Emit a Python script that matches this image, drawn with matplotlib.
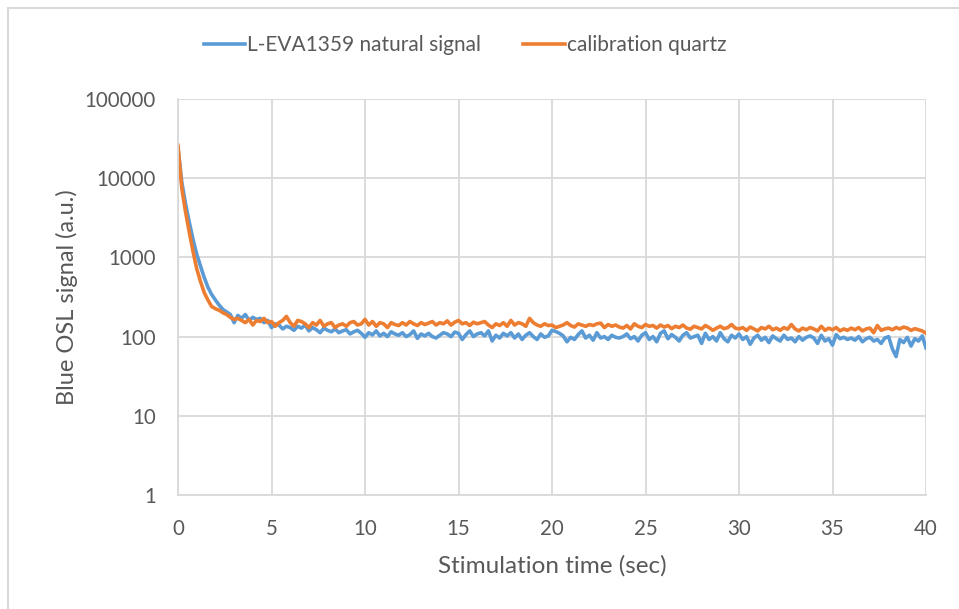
import matplotlib.pyplot as plt
import numpy as np
from matplotlib.lines import Line2D

# stimulation time, one channel every 0.2 s
time = np.arange(201) * 0.2

natural = [
    24000, 9000, 4800, 2800, 1700, 1100, 780, 560, 420, 340,
    290, 250, 220, 205, 190, 150, 185, 170, 190, 160,
    175, 165, 170, 150, 160, 130, 145, 140, 125, 135,
    130, 120, 135, 128, 140, 118, 130, 122, 112, 128,
    120, 115, 125, 112, 118, 122, 108, 115, 120, 110,
    98, 112, 105, 118, 102, 110, 100, 115, 108, 104,
    112, 100, 106, 118, 95, 108, 102, 110, 100, 96,
    104, 112, 108, 100, 114, 110, 92, 106, 118, 100,
    108, 112, 102, 118, 88, 104, 96, 110, 102, 112,
    96, 108, 92, 104, 112, 100, 92, 108, 98, 102,
    120, 116, 110, 102, 86, 98, 92, 106, 118, 96,
    104, 90, 112, 96, 100, 92, 104, 98, 96, 100,
    108, 94, 100, 88, 104, 112, 92, 100, 86, 110,
    118, 94, 106, 98, 88, 104, 112, 96, 100, 104,
    82, 110, 92, 100, 88, 112, 94, 86, 104, 96,
    108, 92, 100, 80, 96, 104, 90, 98, 84, 102,
    94, 88, 104, 92, 96, 86, 100, 90, 98, 102,
    96, 82, 104, 88, 94, 78, 106, 94, 98, 92,
    96, 90, 100, 86, 94, 98, 88, 92, 82, 96,
    100, 70, 56, 92, 84, 98, 76, 94, 88, 102,
    72,
]

calibration = [
    26000, 7500, 3800, 2100, 1200, 720, 500, 360, 290, 240,
    225, 215, 200, 190, 175, 165, 170, 160, 150, 165,
    140, 160, 155, 170, 150, 155, 135, 150, 160, 180,
    150, 135, 160, 155, 145, 130, 150, 140, 160, 135,
    145, 150, 130, 140, 145, 135, 150, 155, 140, 145,
    165, 140, 155, 135, 150, 145, 130, 150, 142, 138,
    150, 140, 155, 145, 138, 150, 142, 148, 155, 140,
    150, 145, 158, 140, 152, 160, 145, 150, 138, 152,
    145, 150, 155, 140, 130, 145, 138, 150, 135, 160,
    140, 150, 145, 135, 170, 150, 140, 135, 145, 138,
    140, 130, 135, 140, 150, 138, 132, 145, 140, 135,
    142, 138, 145, 148, 130, 142, 135, 140, 132, 128,
    138, 125, 145, 135, 130, 142, 135, 138, 128, 140,
    132, 138, 126, 135, 130, 140, 128, 124, 135, 130,
    125, 138, 130, 120, 128, 135, 126, 130, 142, 128,
    125, 130, 120, 132, 125, 118, 130, 125, 135, 122,
    128, 120, 130, 124, 142, 125, 118, 128, 122, 130,
    125, 118, 135, 120, 128, 122, 130, 118, 125, 120,
    128, 122, 130, 118, 125, 128, 112, 138, 120, 125,
    128, 122, 130, 125, 132, 128, 120, 126, 122, 118,
    110,
]

xticks = [0, 5, 10, 15, 20, 25, 30, 35, 40]
yticks = [1, 10, 100, 1000, 10000, 100000]

plt.rcParams['font.family'] = ['Lato', 'DejaVu Sans']
grey = '#595959'
gridc = '#d9d9d9'

fig = plt.figure(figsize=(9.59, 6.09), dpi=100)
ax = fig.add_axes([178/959, 1 - 495/609, (926 - 178)/959, (495 - 99)/609])

ax.plot(time, natural, color='#5b9bd5', linewidth=2.6, label='L-EVA1359 natural signal')
ax.plot(time, calibration, color='#ed7d31', linewidth=2.6, label='calibration quartz')

ax.set_yscale('log')
ax.set_xlim(0, 40)
ax.set_ylim(1, 100000)
ax.set_xticks(xticks)
ax.set_xticklabels([str(v) for v in xticks])
ax.set_yticks(yticks)
ax.set_yticklabels([str(v) for v in yticks])
ax.minorticks_off()
ax.tick_params(length=0, labelsize=14.8, colors=grey)
ax.tick_params(axis='x', pad=17)
ax.tick_params(axis='y', pad=16)

ax.grid(True, color=gridc, linewidth=1.3)
ax.set_axisbelow(True)
for side in ['top', 'right']:
    ax.spines[side].set_visible(False)
for side in ['left', 'bottom']:
    ax.spines[side].set_color(gridc)
    ax.spines[side].set_linewidth(1.3)

ax.set_xlabel('Stimulation time (sec)', fontsize=17.5, color=grey, labelpad=12)
ax.set_ylabel('Blue OSL signal (a.u.)', fontsize=17, color=grey, labelpad=5)

leg = fig.legend(loc='center', bbox_to_anchor=(465/959, 1 - 45/609), ncol=2,
                 frameon=False, fontsize=15, handlelength=2.0, handletextpad=0.1,
                 columnspacing=2.0)
for t in leg.get_texts():
    t.set_color(grey)

# chart area border (only top and left visible)
fig.add_artist(Line2D([8/959, 8/959], [0, 1 - 8/609], color=gridc, linewidth=1.5))
fig.add_artist(Line2D([8/959, 1], [1 - 8/609, 1 - 8/609], color=gridc, linewidth=1.5))

fig.savefig('out.png', dpi=100)
